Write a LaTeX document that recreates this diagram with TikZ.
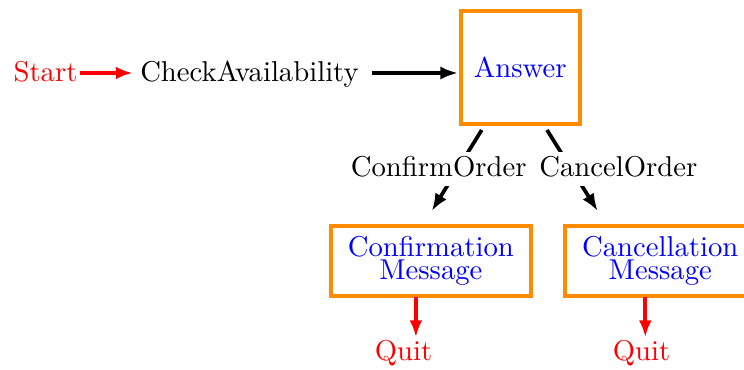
\documentclass[tikz,border=0pt]{standalone}
\usetikzlibrary{arrows.meta,calc}
\definecolor{boxorange}{RGB}{255,140,0}
\begin{document}
\begin{tikzpicture}[x=0.34843pt,y=-0.34843pt,
  bigfont/.style={font=\fontsize{10}{7.84}\selectfont},
  txt/.style={bigfont,inner sep=0pt,anchor=base},
  redtxt/.style={txt,text=red},
  statebox/.style={draw=boxorange,line width=1.394pt,outer sep=0pt,inner sep=0pt,
    text=blue,bigfont,align=center},
  lbl/.style={bigfont,fill=white,inner xsep=0pt,inner ysep=1.39pt,text depth=1.74pt,anchor=base},
  blk/.style={line width=1.3pt,black,-{Latex[length=6.1pt,width=4.6pt]}},
  redarr/.style={line width=1.3pt,red,-{Latex[length=5.9pt,width=4.5pt]}}]
\useasboundingbox (0,0) rectangle (744,370);
\node[redtxt] (start) at (45.5,81) {Start};
\node[txt] (check) at (249.5,81) {CheckAvailability};
\node[statebox,minimum width=41.36pt,minimum height=39.37pt] (ans) at (520.3,67.5) {Answer};
\node[statebox,minimum width=69.96pt,minimum height=24.29pt] (conf) at (430.9,260.9) {Confirmation\\Message};
\node[statebox,minimum width=66.2pt,minimum height=24.29pt] (canc) at (660.3,260.9) {Cancellation\\Message};
\node[redtxt] (quit1) at (403.5,360) {Quit};
\node[redtxt] (quit2) at (641.5,360) {Quit};
\draw[redarr] ($(start.base east)+(2,-8)$) -- ($(check.base west)+(-7,-8)$);
\draw[blk] ($(check.base east)+(13,-8)$) -- ($(ans.west |- check.base)+(-3,-8)$);
\draw[blk] ($(ans.south)+(-38.6,6)$) -- ($(conf.north)+(0.8,-15)$);
\draw[blk] ($(ans.south)+(26.7,6)$) -- ($(canc.north)+(-62.6,-15)$);
\node[lbl] (lconf) at (438.7,176.7) {ConfirmOrder};
\node[lbl] (lcanc) at (618.3,176.7) {CancelOrder};
\draw[redarr] ($(conf.south)+(-15,1)$) -- ($(quit1.north -| conf.south)+(-15,-2)$);
\draw[redarr] ($(canc.south)+(-15,1)$) -- ($(quit2.north -| canc.south)+(-15,-2)$);
\end{tikzpicture}
\end{document}
